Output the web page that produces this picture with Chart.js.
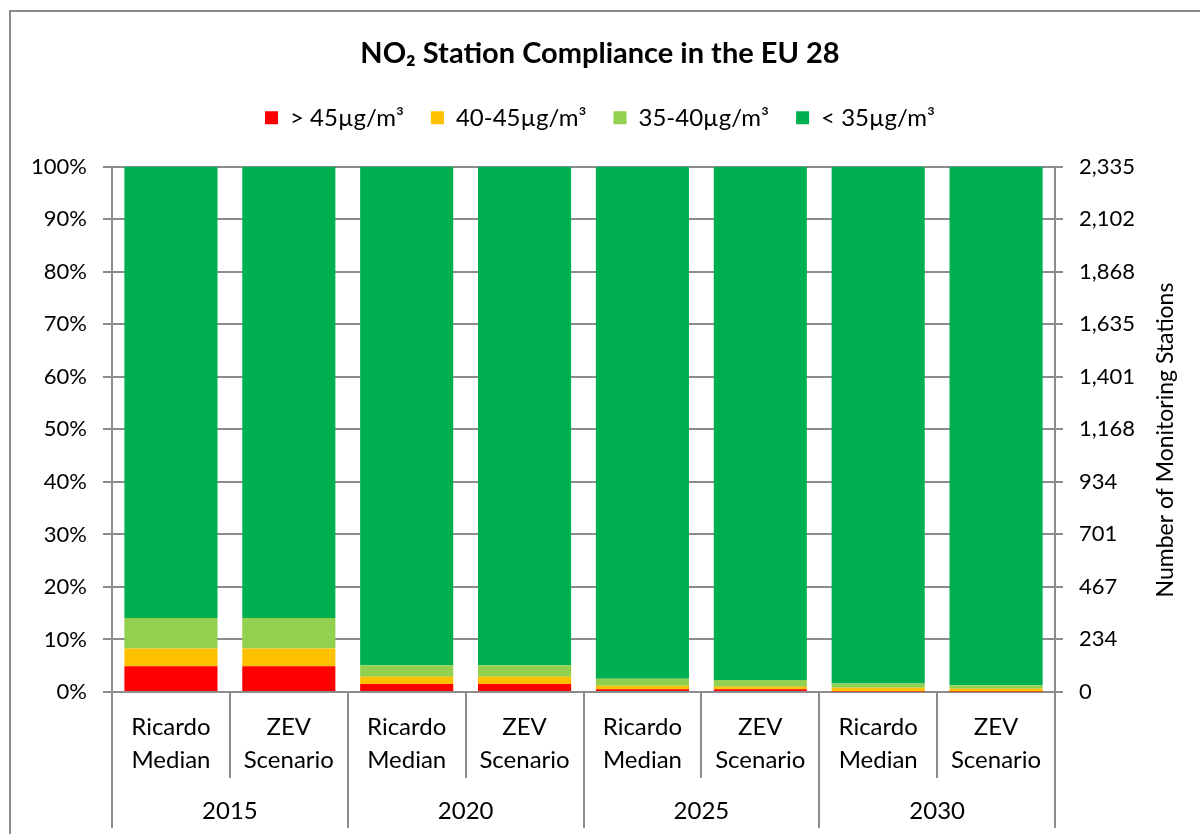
<!DOCTYPE html>
<html>
<head>
<meta charset="utf-8">
<script src="https://cdn.jsdelivr.net/npm/chart.js@4.4.0/dist/chart.umd.min.js"></script>
<style>
  body { margin: 0; background: #fff; }
  #wrap { position: relative; width: 1200px; height: 834px; overflow: hidden; }
  #frame { position: absolute; left: 9px; top: 10px; width: 1300px; height: 900px; border: 2px solid #8c8c8c; box-sizing: border-box; }
  canvas { position: absolute; left: 0; top: 0; }
</style>
</head>
<body>
<div id="wrap">
  <div id="frame"></div>
  <canvas id="myChart" width="1200" height="834"></canvas>
</div>
<script>
let subLabels = [["Ricardo", "Median"], ["ZEV", "Scenario"], ["Ricardo", "Median"], ["ZEV", "Scenario"],
                 ["Ricardo", "Median"], ["ZEV", "Scenario"], ["Ricardo", "Median"], ["ZEV", "Scenario"]];
let yearLabels = ["2015", "2020", "2025", "2030"];

// share of stations (%) per band
let over45 = [4.9, 4.9, 1.5, 1.5, 0.5, 0.5, 0.1, 0.1];
let from40to45 = [3.4, 3.4, 1.4, 1.4, 0.7, 0.5, 0.7, 0.5];
let from35to40 = [5.8, 5.8, 2.2, 2.2, 1.3, 1.3, 0.8, 0.7];
let under35 = [85.9, 85.9, 94.9, 94.9, 97.5, 97.7, 98.4, 98.7];

let seriesNames = ["> 45µg/m³", "40-45µg/m³", "35-40µg/m³", "< 35µg/m³"];
let seriesColors = ["#ff0000", "#ffc000", "#92d050", "#00b050"];

let totalStations = 2335;
let stationTicks = [0, 234, 467, 701, 934, 1168, 1401, 1635, 1868, 2102, 2335];
let rightTitle = "Number of Monitoring Stations";

let font = "Lato, 'Open Sans', sans-serif";
let gridColor = "#8c8c8c";

let datasets = [over45, from40to45, from35to40, under35].map(function (vals, i) {
    return {
        label: seriesNames[i],
        data: vals,
        backgroundColor: seriesColors[i],
        borderWidth: 0,
        categoryPercentage: 1.0,
        barPercentage: 0.79,
        yAxisID: "y"
    };
});

// extra room under the legend
let legendGap = {
    id: "legendGap",
    beforeInit: function (chart) {
        let fit = chart.legend.fit;
        chart.legend.fit = function () {
            fit.bind(chart.legend)();
            this.height += 27;
        };
    }
};

// right axis title reads bottom-to-top like Excel
let rightAxisTitle = {
    id: "rightAxisTitle",
    afterDraw: function (chart) {
        let ctx = chart.ctx;
        ctx.save();
        ctx.translate(1166, 440);
        ctx.rotate(-Math.PI / 2);
        ctx.fillStyle = "#000";
        ctx.font = "23px " + font;
        ctx.textAlign = "center";
        ctx.textBaseline = "middle";
        ctx.fillText(rightTitle, 0, 0);
        ctx.restore();
    }
};

new Chart("myChart", {
    type: "bar",
    data: {
        labels: subLabels,
        datasets: datasets
    },
    plugins: [legendGap, rightAxisTitle],
    options: {
        responsive: false,
        animation: false,
        plugins: {
            title: {
                display: true,
                text: "NO₂ Station Compliance in the EU 28",
                color: "#000",
                font: {family: font, size: 29, weight: "bold"},
                padding: {top: 36, bottom: 8}
            },
            legend: {
                display: true,
                labels: {
                    color: "#000",
                    font: {family: font, size: 24},
                    boxWidth: 13,
                    boxHeight: 13,
                    padding: 27
                }
            },
            tooltip: {enabled: false}
        },
        scales: {
            x: {
                stacked: true,
                position: "bottom",
                grid: {
                    offset: true,
                    drawOnChartArea: false,
                    drawTicks: true,
                    tickLength: 86,
                    color: gridColor,
                    lineWidth: 2
                },
                border: {display: true, color: gridColor, width: 2},
                ticks: {
                    color: "#000",
                    font: {family: font, size: 24, lineHeight: 1.375},
                    padding: -67,
                    maxRotation: 0,
                    autoSkip: false
                },
                afterFit: function (s) { s.height = 86; }
            },
            x2: {
                type: "category",
                position: "bottom",
                labels: yearLabels,
                offset: true,
                grid: {
                    offset: true,
                    drawOnChartArea: false,
                    drawTicks: true,
                    tickLength: 50,
                    color: gridColor,
                    lineWidth: 2
                },
                border: {display: false},
                ticks: {
                    color: "#000",
                    font: {family: font, size: 24},
                    padding: -31,
                    maxRotation: 0
                },
                afterFit: function (s) { s.height = 56; }
            },
            y: {
                stacked: true,
                position: "left",
                min: 0,
                max: 100,
                ticks: {
                    stepSize: 10,
                    color: "#000",
                    font: {family: font, size: 22},
                    padding: 16,
                    callback: function (v) { return v + "%"; }
                },
                grid: {color: gridColor, lineWidth: 2, tickLength: 9},
                border: {display: true, color: gridColor, width: 2},
                afterFit: function (s) { s.width = 112; }
            },
            y2: {
                position: "right",
                min: 0,
                max: totalStations,
                afterBuildTicks: function (s) {
                    s.ticks = stationTicks.map(function (v) { return {value: v}; });
                },
                ticks: {
                    color: "#000",
                    font: {family: font, size: 22},
                    padding: 16,
                    callback: function (v) { return v.toLocaleString("en-US"); }
                },
                grid: {drawOnChartArea: false, color: gridColor, lineWidth: 2, tickLength: 8},
                border: {display: true, color: gridColor, width: 2},
                afterFit: function (s) { s.width = 145; }
            }
        }
    }
});
</script>
</body>
</html>
